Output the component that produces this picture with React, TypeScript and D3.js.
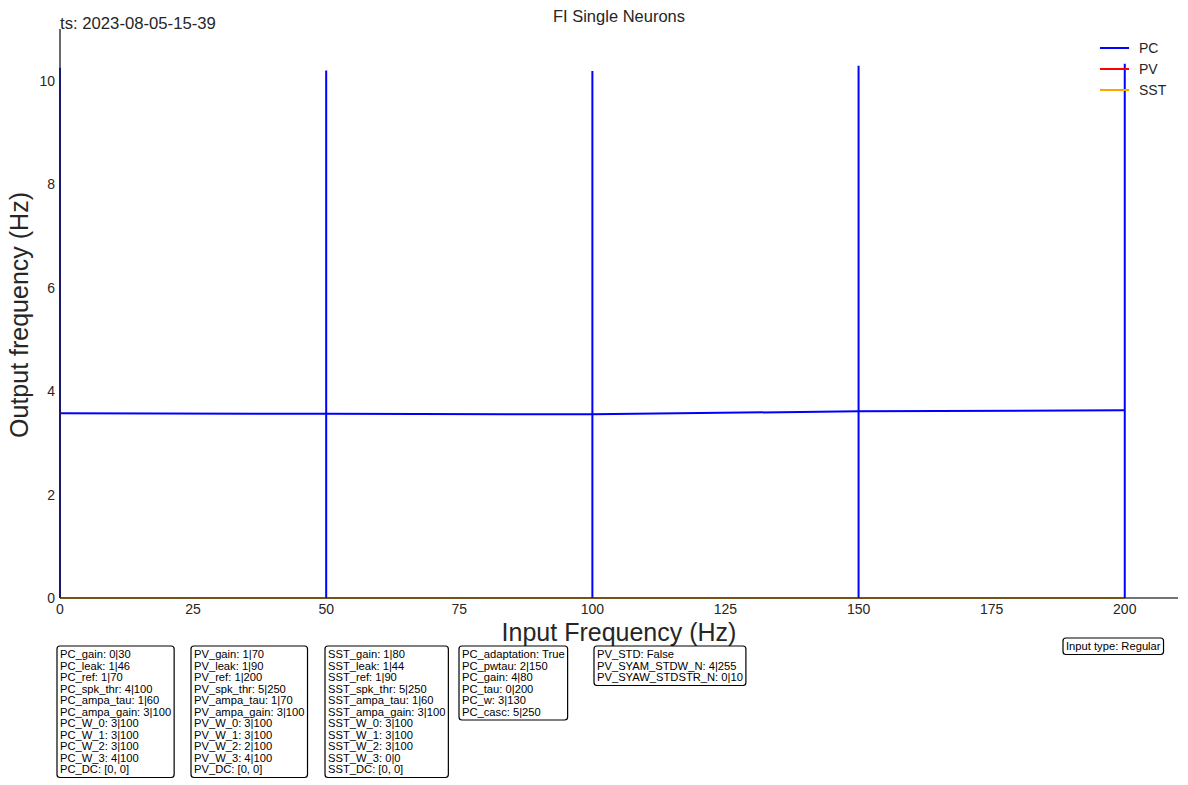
import React, { useEffect, useRef } from 'react';
import * as d3 from 'd3';

const inputFreqs = [0, 50, 100, 150, 200];
const pcMean = [3.57, 3.56, 3.55, 3.61, 3.63];
const pcPeak = [10.25, 10.2, 10.19, 10.29, 10.33];
const pvMean = [0, 0, 0, 0, 0];
const sstMean = [0, 0, 0, 0, 0];

const xTicks = [0, 25, 50, 75, 100, 125, 150, 175, 200];
const yTicks = [0, 2, 4, 6, 8, 10];

const legendItems = [
  { name: 'PC', color: '#0000ff' },
  { name: 'PV', color: '#ff0000' },
  { name: 'SST', color: '#ffa500' },
];

const pcParams = [
  'PC_gain: 0|30', 'PC_leak: 1|46', 'PC_ref: 1|70', 'PC_spk_thr: 4|100', 'PC_ampa_tau: 1|60',
  'PC_ampa_gain: 3|100', 'PC_W_0: 3|100', 'PC_W_1: 3|100', 'PC_W_2: 3|100', 'PC_W_3: 4|100', 'PC_DC: [0, 0]',
];
const pvParams = [
  'PV_gain: 1|70', 'PV_leak: 1|90', 'PV_ref: 1|200', 'PV_spk_thr: 5|250', 'PV_ampa_tau: 1|70',
  'PV_ampa_gain: 3|100', 'PV_W_0: 3|100', 'PV_W_1: 3|100', 'PV_W_2: 2|100', 'PV_W_3: 4|100', 'PV_DC: [0, 0]',
];
const sstParams = [
  'SST_gain: 1|80', 'SST_leak: 1|44', 'SST_ref: 1|90', 'SST_spk_thr: 5|250', 'SST_ampa_tau: 1|60',
  'SST_ampa_gain: 3|100', 'SST_W_0: 3|100', 'SST_W_1: 3|100', 'SST_W_2: 3|100', 'SST_W_3: 0|0', 'SST_DC: [0, 0]',
];
const adaptParams = [
  'PC_adaptation: True', 'PC_pwtau: 2|150', 'PC_gain: 4|80', 'PC_tau: 0|200', 'PC_w: 3|130', 'PC_casc: 5|250',
];
const stdParams = ['PV_STD: False', 'PV_SYAM_STDW_N: 4|255', 'PV_SYAW_STDSTR_N: 0|10'];

const W = 1188;
const H = 785;
const FONT = '"Liberation Sans", Arial, sans-serif';

function App() {
  const svgRef = useRef<SVGSVGElement>(null);

  useEffect(() => {
    const svg = d3.select(svgRef.current);
    svg.selectAll('*').remove();

    const left = 60, right = 1178, top = 29, bottom = 598;
    const x = d3.scaleLinear().domain([0, 210]).range([left, right]);
    const y = d3.scaleLinear().domain([0, 11]).range([bottom, top]);

    const g = svg.append('g').style('font-family', FONT);

    // series
    const line = d3.line<number>()
      .x((d, i) => x(inputFreqs[i]))
      .y(d => y(d));

    g.append('path').datum(pvMean).attr('d', line).attr('fill', 'none')
      .attr('stroke', '#ff0000').attr('stroke-width', 2);
    g.append('path').datum(sstMean).attr('d', line).attr('fill', 'none')
      .attr('stroke', '#ffa500').attr('stroke-width', 2);

    g.append('path').datum(pcMean).attr('d', line).attr('fill', 'none')
      .attr('stroke', '#0000ff').attr('stroke-width', 2);
    g.selectAll('line.peak')
      .data(pcPeak)
      .enter()
      .append('line')
      .attr('class', 'peak')
      .attr('x1', (d, i) => x(inputFreqs[i]))
      .attr('x2', (d, i) => x(inputFreqs[i]))
      .attr('y1', y(0))
      .attr('y2', d => y(d))
      .attr('stroke', '#0000ff')
      .attr('stroke-width', 2);

    // spines
    g.append('line').attr('x1', left).attr('x2', left).attr('y1', top).attr('y2', bottom)
      .attr('stroke', '#262626').attr('stroke-width', 1.6).attr('opacity', 0.85);
    g.append('line').attr('x1', left).attr('x2', right).attr('y1', bottom).attr('y2', bottom)
      .attr('stroke', '#262626').attr('stroke-width', 1.6).attr('opacity', 0.85);

    // ticks
    g.selectAll('text.xt').data(xTicks).enter().append('text')
      .attr('x', d => x(d)).attr('y', bottom + 16)
      .attr('text-anchor', 'middle').attr('font-size', 14).attr('fill', '#262626')
      .text(d => d);
    g.selectAll('text.yt').data(yTicks).enter().append('text')
      .attr('x', left - 5).attr('y', d => y(d) + 5)
      .attr('text-anchor', 'end').attr('font-size', 14).attr('fill', '#262626')
      .text(d => d);

    // labels
    g.append('text').attr('x', (left + right) / 2).attr('y', 641)
      .attr('text-anchor', 'middle').attr('font-size', 25).attr('fill', '#262626')
      .text('Input Frequency (Hz)');
    g.append('text').attr('transform', `translate(28, 315) rotate(-90)`)
      .attr('text-anchor', 'middle').attr('font-size', 25).attr('fill', '#262626')
      .text('Output frequency (Hz)');
    g.append('text').attr('x', (left + right) / 2).attr('y', 22)
      .attr('text-anchor', 'middle').attr('font-size', 16.5).attr('fill', '#262626')
      .text('FI Single Neurons');
    g.append('text').attr('x', left).attr('y', 29)
      .attr('font-size', 16.7).attr('fill', '#262626')
      .text('ts: 2023-08-05-15-39');

    // legend
    legendItems.forEach((item, i) => {
      const ly = 48 + i * 21;
      g.append('line').attr('x1', 1100).attr('x2', 1129).attr('y1', ly).attr('y2', ly)
        .attr('stroke', item.color).attr('stroke-width', 2);
      g.append('text').attr('x', 1139).attr('y', ly + 5).attr('font-size', 14)
        .attr('fill', '#262626').text(item.name);
    });

    // parameter boxes
    const drawBox = (lines: string[], bx: number, by: number) => {
      const bg = g.append('g');
      const rect = bg.append('rect');
      const texts = bg.selectAll('text').data(lines).enter().append('text')
        .attr('x', bx + 3).attr('y', (d, i) => by + 12 + i * 11.5)
        .attr('font-size', 11.2).attr('fill', '#000')
        .text(d => d);
      let maxW = 0;
      texts.each(function () {
        maxW = Math.max(maxW, (this as SVGTextElement).getComputedTextLength());
      });
      rect.attr('x', bx).attr('y', by).attr('width', maxW + 6)
        .attr('height', lines.length * 11.5 + 5)
        .attr('rx', 3).attr('fill', '#fff').attr('stroke', '#000').attr('stroke-width', 1.2);
    };
    drawBox(pcParams, 57, 646);
    drawBox(pvParams, 191, 646);
    drawBox(sstParams, 325, 646);
    drawBox(adaptParams, 459, 646);
    drawBox(stdParams, 594, 646);
    drawBox(['Input type: Regular'], 1063, 638);
  }, []);

  return (
    <svg ref={svgRef} width={W} height={H} viewBox={`0 0 ${W} ${H}`}
      style={{ position: 'absolute', left: 0, top: 0, background: '#fff' }} />
  );
}

export default App;
